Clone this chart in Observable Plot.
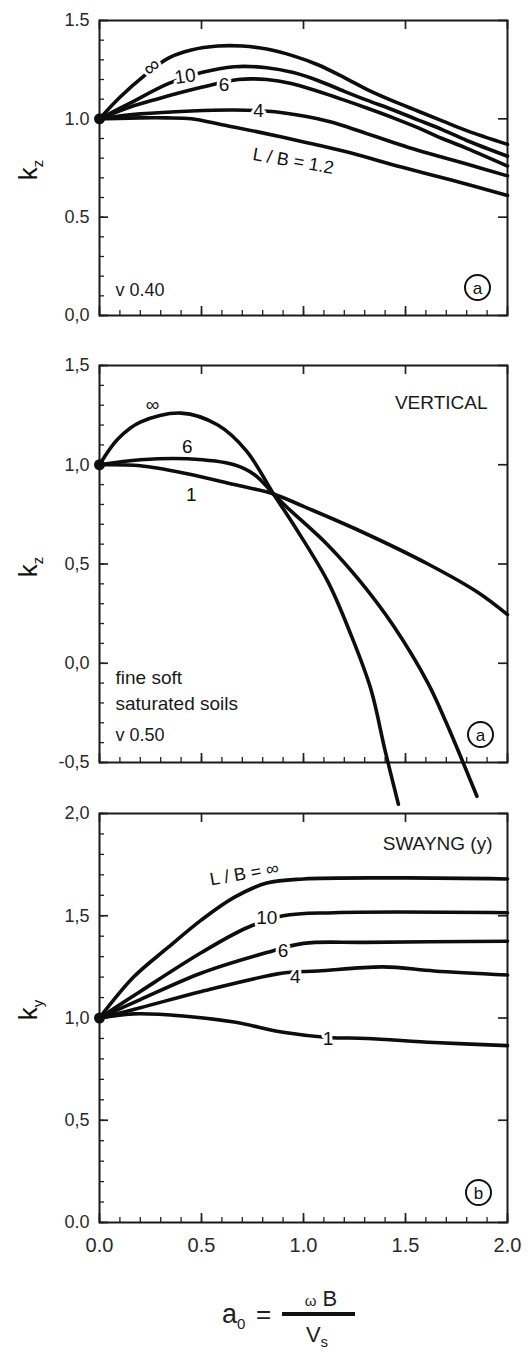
<!DOCTYPE html>
<html><head><meta charset="utf-8">
<script src="https://cdn.jsdelivr.net/npm/d3@7"></script>
<script src="https://cdn.jsdelivr.net/npm/@observablehq/plot@0.6"></script>
<style>
body{margin:0;background:#fff;font-family:"Liberation Sans",Arial,sans-serif;}
#wrap{position:relative;width:530px;height:1358px;overflow:hidden;background:#fff;}
.ylab{position:absolute;font-size:26px;color:#111;transform:translate(-50%,-50%) rotate(-90deg);white-space:nowrap;line-height:1;}
.ylab sub{font-size:15px;}
.xt{position:absolute;color:#222;white-space:nowrap;line-height:1;}
.xt sub{font-size:15px;}
</style></head><body><div id="wrap"></div><script>
// ---------- data ----------
const xTicks = [0, 0.5, 1, 1.5, 2];
const xTickLabels = ["0.0", "0.5", "1.0", "1.5", "2.0"];

// Panel (a) top: k_z, v = 0.40
const topYTicks = [0, 0.5, 1, 1.5];
const topYLabels = ["0,0", "0.5", "1.0", "1.5"];
const topNames = ["∞", "10", "6", "4", "1.2"];
const topInf = [[0,1],[0.1,1.11],[0.22,1.22],[0.34,1.31],[0.45,1.35],[0.58,1.37],[0.7,1.37],[0.82,1.355],[0.95,1.32],[1.07,1.275],[1.2,1.21],[1.31,1.15],[1.44,1.09],[1.56,1.04],[1.68,0.99],[1.8,0.94],[2.0,0.87]];
const top10 = [[0,1],[0.15,1.08],[0.34,1.18],[0.5,1.235],[0.66,1.265],[0.82,1.26],[0.95,1.235],[1.07,1.195],[1.2,1.14],[1.31,1.095],[1.44,1.045],[1.56,0.995],[1.68,0.945],[1.8,0.89],[2.0,0.81]];
const top6 = [[0,1],[0.15,1.06],[0.28,1.10],[0.5,1.16],[0.68,1.2],[0.82,1.2],[0.94,1.18],[1.07,1.14],[1.2,1.095],[1.31,1.055],[1.44,1.005],[1.56,0.955],[1.68,0.9],[1.8,0.85],[2.0,0.76]];
const top4 = [[0,1],[0.2,1.025],[0.45,1.04],[0.66,1.045],[0.87,1.035],[1.07,1.0],[1.18,0.97],[1.31,0.925],[1.44,0.88],[1.56,0.84],[1.8,0.77],[2.0,0.71]];
const top12 = [[0,1],[0.2,1.005],[0.33,1.005],[0.45,1.0],[0.6,0.97],[0.77,0.935],[0.99,0.885],[1.2,0.835],[1.48,0.755],[1.72,0.69],[2.0,0.61]];
const topLabels = [
  {a:0.255, k:1.265, t:"∞", r:-40, s:22},
  {a:0.42, k:1.215, t:"10", r:-8, s:19},
  {a:0.61, k:1.175, t:"6", r:0, s:19},
  {a:0.78, k:1.04, t:"4", r:0, s:19},
  {a:0.95, k:0.785, t:"L / B = 1.2", r:10, s:18}
];

// Panel (a) middle: VERTICAL, fine soft saturated soils, v = 0.50
const midYTicks = [-0.5, 0, 0.5, 1, 1.5];
const midYLabels = ["-0,5", "0,0", "0,5", "1,0", "1,5"];
const midNames = ["∞", "6", "1"];
const midInf = [[0,1],[0.09,1.13],[0.2,1.215],[0.4,1.26],[0.58,1.2],[0.72,1.07],[0.853,0.853],[0.95,0.70],[1.12,0.41],[1.23,0.15],[1.33,-0.13],[1.40,-0.44],[1.465,-0.71]];
const mid6 = [[0,1],[0.2,1.025],[0.43,1.03],[0.66,1.0],[0.76,0.95],[0.853,0.853],[0.92,0.785],[1.12,0.595],[1.28,0.41],[1.44,0.19],[1.61,-0.1],[1.70,-0.3],[1.85,-0.67]];
const mid1 = [[0,1],[0.2,0.995],[0.43,0.955],[0.66,0.9],[0.853,0.853],[1.0,0.79],[1.28,0.665],[1.61,0.50],[1.85,0.36],[2.0,0.245]];
const midLabels = [
  {a:0.26, k:1.3, t:"∞", r:0, s:19},
  {a:0.43, k:1.09, t:"6", r:0, s:19},
  {a:0.45, k:0.85, t:"1", r:0, s:19}
];

// Panel (b): SWAYING (y)
const botYTicks = [0, 0.5, 1, 1.5, 2];
const botYLabels = ["0.0", "0,5", "1,0", "1,5", "2,0"];
const botNames = ["∞", "10", "6", "4", "1"];
const botInf = [[0,1],[0.167,1.2],[0.33,1.34],[0.5,1.48],[0.66,1.59],[0.82,1.66],[1.0,1.68],[1.5,1.685],[2.0,1.68]];
const bot10 = [[0,1],[0.2,1.13],[0.5,1.32],[0.72,1.44],[0.9,1.50],[1.15,1.515],[2.0,1.515]];
const bot6 = [[0,1],[0.2,1.09],[0.5,1.22],[0.82,1.32],[1.0,1.365],[1.3,1.37],[2.0,1.375]];
const bot4 = [[0,1],[0.2,1.05],[0.5,1.13],[0.9,1.22],[1.07,1.23],[1.39,1.25],[1.64,1.23],[2.0,1.21]];
const bot1 = [[0,1],[0.167,1.02],[0.41,1.01],[0.66,0.98],[0.9,0.93],[1.12,0.905],[1.31,0.9],[1.64,0.88],[2.0,0.865]];
const botLabels = [
  {a:0.71, k:1.705, t:"L / B = ∞", r:-10, s:18},
  {a:0.82, k:1.49, t:"10", r:0, s:19},
  {a:0.9, k:1.33, t:"6", r:0, s:19},
  {a:0.96, k:1.20, t:"4", r:0, s:19},
  {a:1.12, k:0.90, t:"1", r:0, s:19}
];

// ---------- build ----------
const FONT = "Liberation Sans, Arial, sans-serif";
const W = 530, ML = 99, MR = 23;
const xMinor = d3.range(0, 21).map(i => i / 10);
function table(names, series) {
  return names.flatMap((n, j) => series[j].map(([a, k]) => ({s: n, a, k})));
}
function panel(o) {
  const yMinor = d3.range(Math.round(o.yDomain[0]*10), Math.round(o.yDomain[1]*10) + 1).map(i => i / 10);
  const rows = table(o.names, o.series);
  const ih = o.height - o.mt - o.mb, iw = W - ML - MR;
  const tk = {stroke:"#222"};
  const marks = [
    // inward ticks
    Plot.tickX(xMinor, {x:d => d, insetTop:ih - 5, strokeWidth:1.3, ...tk}),
    Plot.tickX(xTicks, {x:d => d, insetTop:ih - 9, strokeWidth:1.7, ...tk}),
    Plot.tickX(xTicks, {x:d => d, insetBottom:ih - 9, strokeWidth:1.7, ...tk}),
    Plot.tickY(yMinor, {y:d => d, insetRight:iw - 5, strokeWidth:1.3, ...tk}),
    Plot.tickY(o.yTicks, {y:d => d, insetRight:iw - 9, strokeWidth:1.7, ...tk}),
    Plot.tickY(o.yTicks, {y:d => d, insetLeft:iw - 9, strokeWidth:1.7, ...tk}),
    Plot.axisY({anchor:"left", ticks:o.yTicks, tickSize:0, tickPadding:10, tickFormat:d => o.yLabels[o.yTicks.indexOf(d)], label:null, fontSize:18, fill:"#2a2a2a"}),
    Plot.frame({stroke:"#1a1a1a", strokeWidth:2}),
    Plot.line(rows, {x:"a", y:"k", z:"s", stroke:"#0d0d0d", strokeWidth:3.6, curve:"catmull-rom", strokeLinecap:"round"}),
    Plot.dot(o.series[0].slice(0, 1), {x:d => d[0], y:d => d[1], r:5.5, fill:"#0d0d0d"}),
    Plot.text(o.labels, {x:"a", y:"k", text:"t", rotate:"r", fontSize:d => d.s, fill:"#111", stroke:"white", strokeWidth:6, paintOrder:"stroke", textAnchor:"middle", lineAnchor:"middle"}),
    Plot.dot([o.circ], {frameAnchor:"bottom-right", dx:o.circDx, dy:o.circDy, r:12.5, stroke:"#111", strokeWidth:2, fill:"none"}),
    Plot.text([o.circ], {frameAnchor:"bottom-right", dx:o.circDx, dy:o.circDy + 1, fontSize:17, fill:"#111", textAnchor:"middle", lineAnchor:"middle"}),
    ...o.notes.map(n => Plot.text([n.t], {frameAnchor:n.f, dx:n.dx, dy:n.dy, fontSize:n.s, fill:"#1a1a1a", textAnchor:n.ta, lineAnchor:"middle"}))
  ];
  if (o.xLabels) marks.push(Plot.axisX({anchor:"bottom", ticks:xTicks, tickSize:0, tickPadding:15, tickFormat:d => xTickLabels[xTicks.indexOf(d)], label:null, fontSize:20, fill:"#2a2a2a"}));
  const svg = Plot.plot({
    width:W, height:o.height, marginLeft:ML, marginRight:MR, marginTop:o.mt, marginBottom:o.mb,
    style:{fontFamily:FONT, background:"transparent", overflow:"visible"},
    x:o.xLabels ? {domain:[0, 2]} : {domain:[0, 2], axis:null},
    y:{domain:o.yDomain},
    marks
  });
  svg.style.position = "absolute";
  svg.style.left = "0px";
  svg.style.top = o.top + "px";
  return svg;
}
const wrap = document.getElementById("wrap");
wrap.append(panel({top:0, height:330, mt:20, mb:15, yDomain:[0, 1.5], yTicks:topYTicks, yLabels:topYLabels,
  names:topNames, series:[topInf, top10, top6, top4, top12], labels:topLabels, circ:"a", circDx:-30, circDy:-28,
  notes:[{t:"v 0.40", f:"bottom-left", dx:16, dy:-25, s:18, ta:"start"}]}));
wrap.append(panel({top:330, height:475, mt:35, mb:43, yDomain:[-0.5, 1.5], yTicks:midYTicks, yLabels:midYLabels,
  names:midNames, series:[midInf, mid6, mid1], labels:midLabels, circ:"a", circDx:-27, circDy:-28,
  notes:[
    {t:"VERTICAL", f:"top-right", dx:-20, dy:37, s:19, ta:"end"},
    {t:"fine soft", f:"bottom-left", dx:16, dy:-85, s:19, ta:"start"},
    {t:"saturated soils", f:"bottom-left", dx:16, dy:-59, s:19, ta:"start"},
    {t:"v 0.50", f:"bottom-left", dx:16, dy:-27, s:18, ta:"start"}
  ]}));
wrap.append(panel({top:805, height:460, mt:8, mb:43, yDomain:[0, 2], yTicks:botYTicks, yLabels:botYLabels,
  names:botNames, series:[botInf, bot10, bot6, bot4, bot1], labels:botLabels, circ:"b", circDx:-29, circDy:-30,
  notes:[{t:"SWAYNG (y)", f:"top-right", dx:-15, dy:30, s:19, ta:"end"}], xLabels:true}));

// axis titles (HTML text overlays)
const yTitles = [{x:30, y:170, k:"k", sub:"z"}, {x:30, y:567, k:"k", sub:"z"}, {x:30, y:1010, k:"k", sub:"y"}];
for (const t of yTitles) {
  const d = document.createElement("div");
  d.className = "ylab";
  d.style.left = t.x + "px"; d.style.top = t.y + "px";
  d.innerHTML = `${t.k}<sub>${t.sub}</sub>`;
  wrap.append(d);
}
function addX(html, style) {
  const d = document.createElement("div");
  d.className = "xt";
  d.setAttribute("style", style);
  d.innerHTML = html;
  wrap.append(d);
}
addX("a<sub>0</sub>", "left:222px;top:1301px;font-size:27px;");
addX("=", "left:256px;top:1301px;font-size:26px;");
addX("", "left:282px;top:1312px;width:73px;height:4px;background:#111;");
addX("<span style='font-size:15px'>ω</span> B", "left:282px;top:1288px;width:78px;text-align:center;font-size:22px;");
addX("V<sub>s</sub>", "left:282px;top:1324px;width:70px;text-align:center;font-size:22px;");
</script></body></html>
